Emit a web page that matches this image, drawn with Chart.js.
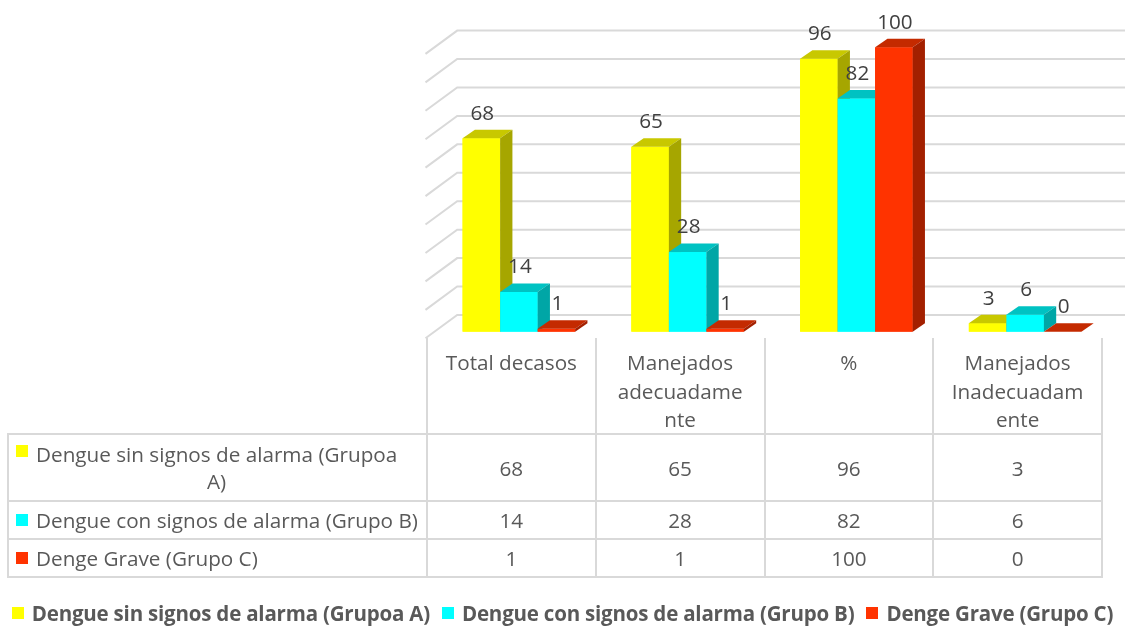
<!DOCTYPE html>
<html><head><meta charset="utf-8">
<script src="https://cdn.jsdelivr.net/npm/chart.js@4/dist/chart.umd.min.js"></script>
<style>
html,body{margin:0;padding:0;background:#fff;}
#wrap{position:relative;width:1125px;height:629px;overflow:hidden;font-family:"Open Sans",sans-serif;color:#595959;}
#c{position:absolute;left:0;top:0;}
.ln{position:absolute;background:#d9d9d9;}
.hdr{position:absolute;text-align:center;font-size:20.7px;line-height:28.5px;}
.val{position:absolute;text-align:center;font-size:20.7px;display:flex;align-items:center;justify-content:center;}
.lab{position:absolute;font-size:20.7px;line-height:27px;display:flex;align-items:center;white-space:nowrap;}
.lab .blk{display:inline-block;text-align:center;}
.key{display:inline-block;width:12px;height:12px;margin-right:8px;flex:none;}
#legend{position:absolute;left:0;top:598px;width:1125px;height:30px;display:flex;justify-content:center;align-items:center;font-weight:bold;font-size:20.5px;white-space:nowrap;letter-spacing:-0.2px;}
#legend .it{display:flex;align-items:center;margin:0 6px;}
</style></head><body><div id="wrap"><canvas id="c" width="1125" height="629"></canvas><div id="legend"></div></div>
<script>
// ---- data ----
const categories = ["Total decasos", "Manejados adecuadamente", "%", "Manejados Inadecuadamente"];
const categoryLines = [["Total decasos"], ["Manejados", "adecuadame", "nte"], ["%"], ["Manejados", "Inadecuadam", "ente"]];
const seriesNames = ["Dengue sin signos de alarma (Grupoa A)", "Dengue con signos de alarma (Grupo B)", "Denge Grave (Grupo C)"];
const rowLabelLines = [["Dengue sin signos de alarma (Grupoa", "A)"], ["Dengue con signos de alarma (Grupo B)"], ["Denge Grave (Grupo C)"]];
const grupoA = [68, 65, 96, 3];
const grupoB = [14, 28, 82, 6];
const grupoC = [1, 1, 100, 0];
const yMin = 0, yMax = 100, yStep = 10;

// ---- styles ----
const fronts = ["#FFFF00", "#00FFFF", "#FF3300"];
const tops   = ["#C8C800", "#00C2C2", "#C42A00"];
const sides  = ["#A6A600", "#00A6A6", "#A32000"];
const BAR_DX = 12.3, BAR_DY = 8.5;
const BACK_DX = 22.7, BACK_DY = 16.7;
const FRONT_DX = -9, FRONT_DY = 6.6;
const TABLE_SHIFT = -7.5;
const FONT = '"Open Sans", sans-serif';

const seriesData = [grupoA, grupoB, grupoC];

const box3d = {
  id: 'box3d',
  beforeDatasetsDraw(chart) {
    const ctx = chart.ctx, ys = chart.scales.y, ca = chart.chartArea;
    ctx.save();
    ctx.strokeStyle = '#d9d9d9';
    ctx.lineWidth = 2;
    const bl = ca.left + BACK_DX, fl = ca.left + FRONT_DX;
    for (let v = yMin; v <= yMax; v += yStep) {
      const y = ys.getPixelForValue(v);
      ctx.beginPath();
      ctx.moveTo(fl, y + FRONT_DY);
      ctx.lineTo(bl, y - BACK_DY);
      ctx.lineTo(chart.width + 20, y - BACK_DY);
      ctx.stroke();
    }
    ctx.restore();
  },
  afterDatasetsDraw(chart) {
    const ctx = chart.ctx;
    ctx.save();
    const n = chart.data.labels.length;
    for (let i = 0; i < n; i++) {
      for (let d = 0; d < chart.data.datasets.length; d++) {
        const el = chart.getDatasetMeta(d).data[i];
        const p = el.getProps(['x', 'y', 'base', 'width'], true);
        const x0 = p.x - p.width / 2, x1 = p.x + p.width / 2;
        const yt = Math.min(p.y, p.base), yb = Math.max(p.y, p.base);
        ctx.fillStyle = fronts[d];
        ctx.fillRect(x0, yt, x1 - x0, yb - yt);
        ctx.fillStyle = tops[d];
        ctx.beginPath();
        ctx.moveTo(x0, yt); ctx.lineTo(x1, yt); ctx.lineTo(x1 + BAR_DX, yt - BAR_DY); ctx.lineTo(x0 + BAR_DX, yt - BAR_DY); ctx.closePath(); ctx.fill();
        ctx.fillStyle = sides[d];
        ctx.beginPath();
        ctx.moveTo(x1, yt); ctx.lineTo(x1 + BAR_DX, yt - BAR_DY); ctx.lineTo(x1 + BAR_DX, yb - BAR_DY); ctx.lineTo(x1, yb); ctx.closePath(); ctx.fill();
      }
    }
    ctx.fillStyle = '#404040';
    ctx.font = '20.7px ' + FONT;
    ctx.textAlign = 'center';
    ctx.textBaseline = 'middle';
    for (let d = 0; d < chart.data.datasets.length; d++) {
      chart.getDatasetMeta(d).data.forEach((el, i) => {
        const p = el.getProps(['x', 'y'], true);
        ctx.fillText(String(chart.data.datasets[d].data[i]), p.x + 1, p.y - BAR_DY - 16);
      });
    }
    ctx.restore();
  }
};

const chart = new Chart(document.getElementById('c').getContext('2d'), {
  type: 'bar',
  data: {
    labels: categories,
    datasets: seriesNames.map((name, k) => ({ label: name, data: seriesData[k], backgroundColor: fronts[k], borderWidth: 0 }))
  },
  options: {
    responsive: false,
    animation: false,
    events: [],
    layout: { padding: { left: 434.5, right: 15.5, top: 47.3, bottom: 297.3 } },
    datasets: { bar: { categoryPercentage: 0.667, barPercentage: 1 } },
    scales: {
      x: { display: false },
      y: { display: false, min: yMin, max: yMax, ticks: { stepSize: yStep } }
    },
    plugins: { legend: { display: false }, tooltip: { enabled: false } }
  },
  plugins: [box3d]
});

// ---- data table (built from the chart's category scale) ----
const wrap = document.getElementById('wrap');
function add(cls, css, html) {
  const e = document.createElement('div');
  e.className = cls;
  Object.assign(e.style, css);
  if (html !== undefined) e.innerHTML = html;
  wrap.appendChild(e);
  return e;
}
const ca = chart.chartArea;
const colW = (ca.right - ca.left) / categories.length;
const tLeft = ca.left + TABLE_SHIFT;
const labelLeft = 8;
const hdrTop = chart.scales.y.getPixelForValue(0) + FRONT_DY;
const rowTops = [434, 501, 539, 577];
const tBottom = rowTops[rowTops.length - 1];
for (let i = 0; i <= categories.length; i++) {
  add('ln', { left: (tLeft + i * colW - 1) + 'px', top: hdrTop + 'px', width: '2px', height: (tBottom - hdrTop + 1) + 'px' });
}
add('ln', { left: (labelLeft - 1) + 'px', top: (rowTops[0] - 1) + 'px', width: '2px', height: (tBottom - rowTops[0] + 2) + 'px' });
rowTops.forEach(y => add('ln', { left: (labelLeft - 1) + 'px', top: (y - 1) + 'px', width: (tLeft + categories.length * colW - labelLeft + 2) + 'px', height: '2px' }));
categoryLines.forEach((lines, i) => {
  add('hdr', { left: (tLeft + i * colW) + 'px', top: (hdrTop + 10) + 'px', width: colW + 'px' }, lines.join('<br>'));
});
seriesData.forEach((vals, r) => {
  const top = rowTops[r], h = rowTops[r + 1] - rowTops[r];
  const multi = rowLabelLines[r].length > 1;
  add('lab', { left: (labelLeft + 8) + 'px', top: top + 'px', height: h + 'px', width: (tLeft - labelLeft - 8) + 'px' },
    '<span class="key" style="background:' + fronts[r] + ';margin-top:' + (multi ? 11 : 0) + 'px;align-self:' + (multi ? 'flex-start' : 'center') + '"></span><span class="blk">' + rowLabelLines[r].join('<br>') + '</span>');
  vals.forEach((v, i) => {
    add('val', { left: (tLeft + i * colW) + 'px', top: top + 'px', width: colW + 'px', height: h + 'px' }, String(v));
  });
});
const lg = document.getElementById('legend');
seriesNames.forEach((name, k) => {
  const it = document.createElement('div');
  it.className = 'it';
  it.innerHTML = '<span class="key" style="background:' + fronts[k] + '"></span>' + name;
  lg.appendChild(it);
});
</script>
</body></html>
